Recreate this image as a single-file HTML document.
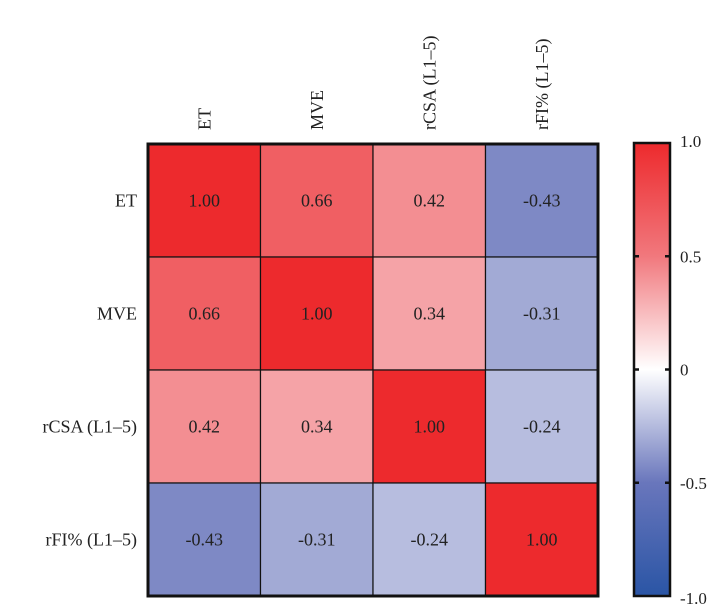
<!DOCTYPE html>
<html><head><meta charset="utf-8"><style>
body{margin:0;background:#fff;width:720px;height:608px;overflow:hidden}
svg text{font-family:"Liberation Serif",serif;fill:#222}
</style></head><body>
<svg id="c" width="720" height="608">
<defs><linearGradient id="g" x1="0" y1="0" x2="0" y2="1">
<stop offset="0" stop-color="#ed2a2d"/><stop offset="0.25" stop-color="rgb(241,120,125)"/><stop offset="0.5" stop-color="#ffffff"/><stop offset="0.75" stop-color="rgb(105,118,188)"/><stop offset="1" stop-color="#2a55a5"/>
</linearGradient></defs>
</svg>
<script>
const labels=["ET","MVE","rCSA (L1\u20135)","rFI% (L1\u20135)"];
const row0=[1.00,0.66,0.42,-0.43];
const row1=[0.66,1.00,0.34,-0.31];
const row2=[0.42,0.34,1.00,-0.24];
const row3=[-0.43,-0.31,-0.24,1.00];
const rows=[row0,row1,row2,row3];
const cbTicks=[1.0,0.5,0,-0.5,-1.0];
const cbTickLabels=["1.0","0.5","0","-0.5","-1.0"];
const NS="http://www.w3.org/2000/svg",svg=document.getElementById('c');
const X0=148,Y0=144,W=450,H=452,n=labels.length,cw=W/n,ch=H/n;
const xS=i=>X0+i*cw,yS=i=>Y0+i*ch;
const CB={x:634,y:143,w:36,h:453};
const cbY=v=>CB.y+(1-v)/2*CB.h;
function mk(t,a){const e=document.createElementNS(NS,t);for(const k in a)e.setAttribute(k,a[k]);svg.appendChild(e);return e;}
function lerp(a,b,t){return a.map((x,i)=>Math.round(x+(b[i]-x)*t));}
function col(v){const W=[255,255,255];const t=Math.abs(v);
 const mid=v>=0?[241,120,125]:[105,118,188],end=v>=0?[237,42,45]:[42,85,165];
 const c=t<=0.5?lerp(W,mid,t/0.5):lerp(mid,end,(t-0.5)/0.5);
 return 'rgb('+c.join(',')+')';}
rows.forEach((row,r)=>row.forEach((v,c)=>{
 const rc=mk('rect',{x:xS(c),y:yS(r),width:cw,height:ch,fill:col(v),stroke:'#111','stroke-width':1.2});
 
 
 const t=mk('text',{x:xS(c)+cw/2,y:yS(r)+ch/2+6,'text-anchor':'middle','font-size':18});
 t.textContent=v.toFixed(2);
 
 
}));
const fr=mk('rect',{x:X0,y:Y0,width:W,height:H,fill:'none',stroke:'#111','stroke-width':3});


labels.forEach((l,i)=>{
 const t=mk('text',{x:137,y:yS(i)+ch/2+6,'text-anchor':'end','font-size':18});t.textContent=l;
 
 
 const cx=xS(i)+cw/2+6;
 const u=mk('text',{x:cx,y:130,'font-size':18,transform:'rotate(-90 '+cx+' 130)'});u.textContent=l;
 
 
});
const cb=mk('rect',{x:CB.x,y:CB.y,width:CB.w,height:CB.h,fill:'url(#g)',stroke:'#111','stroke-width':2.5});


cbTicks.forEach((v,i)=>{
 const y=cbY(v);
 if(v<1&&v>-1){mk('line',{x1:CB.x,x2:CB.x+5,y1:y,y2:y,stroke:'#111','stroke-width':2.5});
 mk('line',{x1:CB.x+CB.w-5,x2:CB.x+CB.w,y1:y,y2:y,stroke:'#111','stroke-width':2.5});}
 const t=mk('text',{x:680,y:y+(v==1?4:v==-1?8:6),'font-size':17});t.textContent=cbTickLabels[i];
 
 
});
</script>
</body></html>
